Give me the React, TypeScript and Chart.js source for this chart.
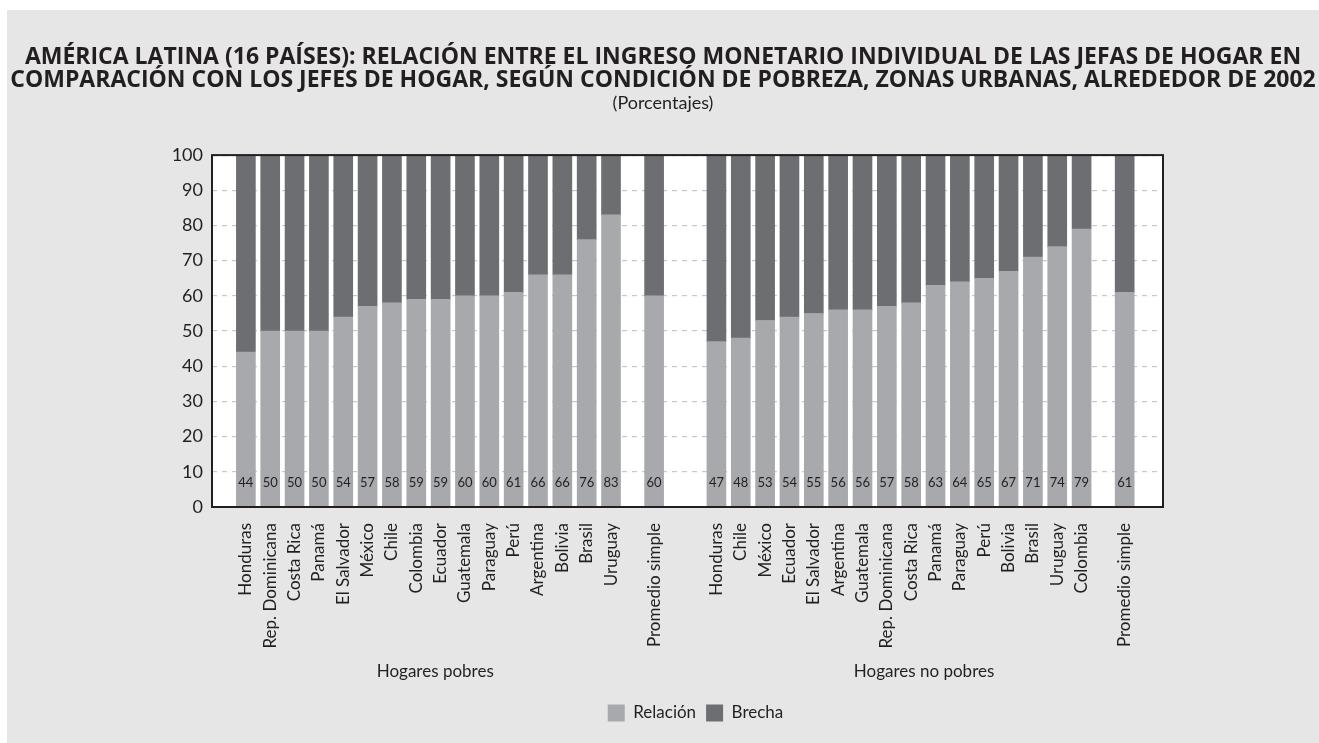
import React, { useEffect, useRef } from "react";
import { Chart, registerables } from "chart.js";

Chart.register(...registerables);

// ---------- DATA ----------
const titleLines = [
  "AMÉRICA LATINA (16 PAÍSES): RELACIÓN ENTRE EL INGRESO MONETARIO INDIVIDUAL DE LAS JEFAS DE HOGAR EN",
  "COMPARACIÓN CON LOS JEFES DE HOGAR, SEGÚN CONDICIÓN DE POBREZA, ZONAS URBANAS, ALREDEDOR DE 2002",
];
const subtitleText = "(Porcentajes)";
const seriesNames = ["Relación", "Brecha"];
const groupLabels = ["Hogares pobres", "Hogares no pobres"];
const averageLabel = "Promedio simple";

const poorCountries = [
  "Honduras", "Rep. Dominicana", "Costa Rica", "Panamá", "El Salvador", "México", "Chile", "Colombia",
  "Ecuador", "Guatemala", "Paraguay", "Perú", "Argentina", "Bolivia", "Brasil", "Uruguay",
];
const poorRelacion = [44, 50, 50, 50, 54, 57, 58, 59, 59, 60, 60, 61, 66, 66, 76, 83];
const poorBrecha = [56, 50, 50, 50, 46, 43, 42, 41, 41, 40, 40, 39, 34, 34, 24, 17];
const poorAvgRelacion = 60;
const poorAvgBrecha = 40;

const nonPoorCountries = [
  "Honduras", "Chile", "México", "Ecuador", "El Salvador", "Argentina", "Guatemala", "Rep. Dominicana",
  "Costa Rica", "Panamá", "Paraguay", "Perú", "Bolivia", "Brasil", "Uruguay", "Colombia",
];
const nonPoorRelacion = [47, 48, 53, 54, 55, 56, 56, 57, 58, 63, 64, 65, 67, 71, 74, 79];
const nonPoorBrecha = [53, 52, 47, 46, 45, 44, 44, 43, 42, 37, 36, 35, 33, 29, 26, 21];
const nonPoorAvgRelacion = 61;
const nonPoorAvgBrecha = 39;

const yTickValues = [0, 10, 20, 30, 40, 50, 60, 70, 80, 90, 100];

// ---------- LAYOUT (slot units along the x axis) ----------
const AVG_GAP = 1.77;
const GROUP_GAP = 2.56;
const X_PAD_LEFT = 0.817;
const X_PAD_RIGHT = 1.0;
const POOR_LABEL_OFFSET = 7.78;
const NONPOOR_LABEL_OFFSET = 8.53;
const LEGEND_SHIFT = 8;

const COLORS = {
  relacion: "#a8a9ad",
  brecha: "#6d6e72",
  text: "#231f20",
  panel: "#e6e6e6",
  grid: "#c8c8c8",
};
const FONT = "Lato, 'Open Sans', sans-serif";
const TITLE_FONT = "'Open Sans', Lato, sans-serif";

export default function App() {
  const canvasRef = useRef<HTMLCanvasElement | null>(null);

  useEffect(() => {
    const canvas = canvasRef.current;
    if (!canvas) return;

    const poorPos = poorCountries.map((_, i) => i);
    const poorAvgPos = poorCountries.length - 1 + AVG_GAP;
    const npStart = poorAvgPos + GROUP_GAP;
    const npPos = nonPoorCountries.map((_, i) => npStart + i);
    const npAvgPos = npStart + nonPoorCountries.length - 1 + AVG_GAP;

    const positions = [...poorPos, poorAvgPos, ...npPos, npAvgPos];
    const labels = [...poorCountries, averageLabel, ...nonPoorCountries, averageLabel];
    const relacion = [...poorRelacion, poorAvgRelacion, ...nonPoorRelacion, nonPoorAvgRelacion];
    const brecha = [...poorBrecha, poorAvgBrecha, ...nonPoorBrecha, nonPoorAvgBrecha];

    const groupCenters = [POOR_LABEL_OFFSET, npStart + NONPOOR_LABEL_OFFSET];

    const decoPlugin = {
      id: "deco",
      afterLayout(chart: any) {
        if (chart.legend) {
          chart.legend.left += LEGEND_SHIFT;
          chart.legend.right += LEGEND_SHIFT;
        }
      },
      beforeDraw(chart: any) {
        const { ctx, chartArea } = chart;
        ctx.save();
        ctx.fillStyle = "#ffffff";
        ctx.fillRect(chartArea.left, chartArea.top, chartArea.right - chartArea.left, chartArea.bottom - chartArea.top);
        ctx.restore();
      },
      afterDraw(chart: any) {
        const { ctx, chartArea, scales } = chart;
        const xs = scales.x;
        const ys = scales.y;
        ctx.save();
        // value labels
        ctx.fillStyle = COLORS.text;
        ctx.font = `13px ${FONT}`;
        ctx.textAlign = "center";
        ctx.textBaseline = "middle";
        const meta = chart.getDatasetMeta(0);
        meta.data.forEach((bar: any, i: number) => {
          ctx.fillText(String(relacion[i]), bar.x, ys.getPixelForValue(0) - 24);
        });
        // plot border
        ctx.strokeStyle = COLORS.text;
        ctx.lineWidth = 2;
        ctx.strokeRect(chartArea.left, chartArea.top, chartArea.right - chartArea.left, chartArea.bottom - chartArea.top);
        // group labels
        ctx.font = `17px ${FONT}`;
        ctx.fillStyle = COLORS.text;
        groupLabels.forEach((g, i) => {
          ctx.fillText(g, xs.getPixelForValue(groupCenters[i]), chartArea.bottom + 165);
        });
        ctx.restore();
      },
    };

    const chart = new Chart(canvas, {
      type: "bar",
      data: {
        datasets: [
          {
            label: seriesNames[0],
            data: positions.map((x, i) => ({ x, y: relacion[i] })),
            backgroundColor: COLORS.relacion,
            barThickness: 19,
          },
          {
            label: seriesNames[1],
            data: positions.map((x, i) => ({ x, y: brecha[i] })),
            backgroundColor: COLORS.brecha,
            barThickness: 19,
          },
        ],
      },
      options: {
        responsive: false,
        animation: false,
        layout: { padding: { left: 0, right: 0, top: 0, bottom: 11.5 } },
        plugins: {
          title: {
            display: true,
            text: titleLines,
            color: COLORS.text,
            font: { family: TITLE_FONT, size: 23, weight: "bold", lineHeight: 1.0 },
            padding: { top: 35.5, bottom: 0 },
          },
          subtitle: {
            display: true,
            text: subtitleText,
            color: COLORS.text,
            font: { family: FONT, size: 18, lineHeight: 1.2 },
            padding: { top: 1, bottom: 41 },
          },
          legend: {
            position: "bottom",
            fullSize: false,
            labels: {
              color: COLORS.text,
              font: { family: FONT, size: 17 },
              boxWidth: 17,
              boxHeight: 17,
              padding: 10,
            },
          },
          tooltip: { enabled: false },
        },
        scales: {
          x: {
            type: "linear",
            stacked: true,
            min: -X_PAD_LEFT,
            max: npAvgPos + X_PAD_RIGHT,
            grid: { display: false },
            border: { display: false },
            afterBuildTicks: (scale: any) => {
              scale.ticks = positions.map((v) => ({ value: v }));
            },
            afterFit: (scale: any) => {
              scale.height = 187.5;
            },
            ticks: {
              autoSkip: false,
              minRotation: 90,
              maxRotation: 90,
              padding: 8,
              color: COLORS.text,
              font: { family: FONT, size: 17 },
              callback: (_v: any, i: number) => labels[i],
            },
          },
          y: {
            stacked: true,
            min: 0,
            max: 100,
            afterBuildTicks: (scale: any) => {
              scale.ticks = yTickValues.map((v) => ({ value: v }));
            },
            afterFit: (scale: any) => {
              scale.width = 205;
            },
            grid: {
              color: COLORS.grid,
              lineWidth: 1.2,
              drawTicks: false,
            },
            border: { display: false, dash: [5, 5] },
            ticks: {
              padding: 9,
              color: COLORS.text,
              font: { family: FONT, size: 18 },
            },
          },
          yRight: {
            type: "linear",
            position: "right",
            display: true,
            grid: { display: false, drawTicks: false },
            border: { display: false },
            ticks: { display: false },
            afterFit: (scale: any) => {
              scale.width = 156;
            },
          },
        },
      },
      plugins: [decoPlugin],
    });

    return () => chart.destroy();
  }, []);

  return (
    <div
      style={{
        position: "fixed",
        left: 7,
        top: 10,
        right: 0,
        bottom: 0,
        background: COLORS.panel,
        overflow: "hidden",
      }}
    >
      <canvas ref={canvasRef} width={1312} height={733} style={{ display: "block" }} />
    </div>
  );
}
